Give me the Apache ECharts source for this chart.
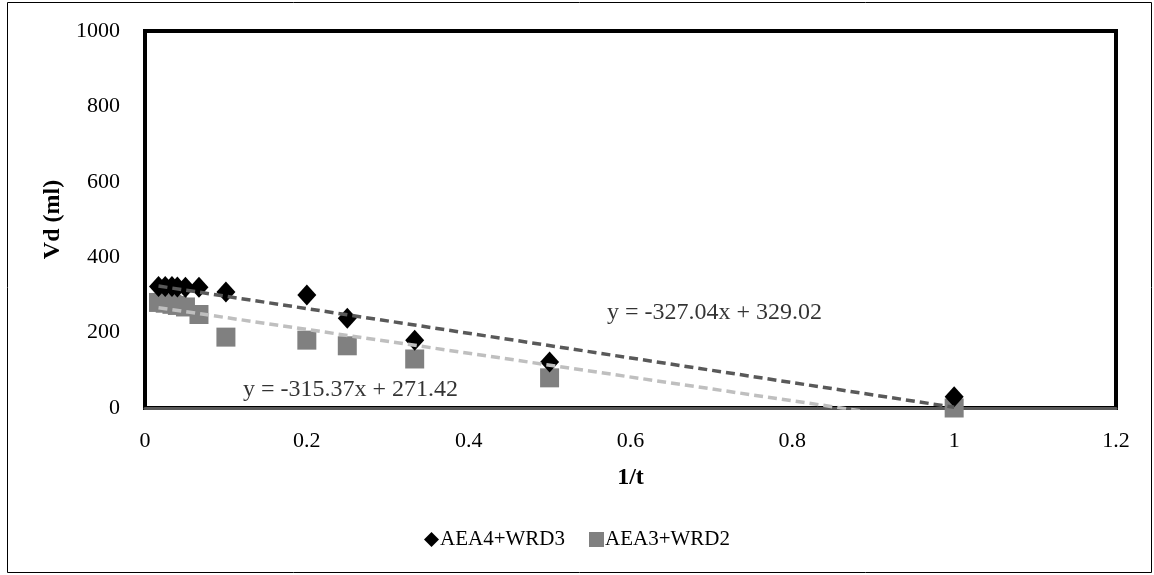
<!DOCTYPE html>
<html><head><meta charset="utf-8">
<script src="https://cdn.jsdelivr.net/npm/echarts@6/dist/echarts.min.js"></script>
<style>html,body{margin:0;padding:0;background:#fff}#c{width:1154px;height:575px}</style>
</head><body><div id="c"></div>
<script>
const xValues = [1, 0.5, 0.3333, 0.25, 0.2, 0.1, 0.0667, 0.05, 0.04, 0.0333, 0.025, 0.0167];
const seriesA = [30, 122, 180, 238, 300, 308, 320, 320, 321, 322, 322, 322]; // AEA4+WRD3
const seriesB = [0, 80, 130, 165, 180, 188, 248, 268, 272, 275, 278, 280]; // AEA3+WRD2
const seriesNames = ['AEA4+WRD3', 'AEA3+WRD2'];
const trendA = [-327.04, 329.02];
const trendB = [-315.37, 271.42];
const trendLabels = ['y = -327.04x + 329.02', 'y = -315.37x + 271.42'];
const xTicks = [0, 0.2, 0.4, 0.6, 0.8, 1, 1.2];
const yTicks = [0, 200, 400, 600, 800, 1000];

const font = 'Liberation Serif, Times New Roman, serif';
const pts = (xs, ys) => xs.map((x, i) => [x, ys[i]]);
const xMin = Math.min(...xValues), xMax = Math.max(...xValues);
const trend = (c) => [[xMin, c[0] * xMin + c[1]], [xMax, c[0] * xMax + c[1]]];

const chart = echarts.init(document.getElementById('c'));
chart.setOption({
  animation: false,
  backgroundColor: '#fff',
  textStyle: { fontFamily: font },
  grid: { left: 145, right: 38, top: 31, bottom: 167, show: true, borderColor: '#000', borderWidth: 4, backgroundColor: '#fff' },
  xAxis: {
    type: 'value', min: 0, max: 1.2, interval: 0.2,
    name: '1/t', nameLocation: 'middle', nameGap: 58,
    nameTextStyle: { fontFamily: font, fontSize: 24, fontWeight: 'bold', color: '#000' },
    axisLine: { show: true, onZero: false, lineStyle: { color: '#595959', width: 3 } },
    axisTick: { show: false },
    splitLine: { show: false },
    axisLabel: { fontFamily: font, fontSize: 22, color: '#000', margin: 22,
      formatter: v => xTicks.includes(+v.toFixed(1)) ? String(+v.toFixed(1)) : '' }
  },
  yAxis: {
    type: 'value', min: 0, max: 1000, interval: 200,
    name: 'Vd (ml)', nameLocation: 'middle', nameGap: 72,
    nameTextStyle: { fontFamily: font, fontSize: 24, fontWeight: 'bold', color: '#000' },
    axisLine: { show: false }, axisTick: { show: false }, splitLine: { show: false },
    axisLabel: { fontFamily: font, fontSize: 22, color: '#000', margin: 25,
      formatter: v => yTicks.includes(v) ? String(v) : '' }
  },
  legend: {
    top: 524, left: 'center', itemGap: 24, itemWidth: 15, itemHeight: 15,
    textStyle: { fontFamily: font, fontSize: 21, color: '#000', padding: [0, 0, 0, -4] },
    data: [{ name: seriesNames[0], icon: 'diamond' }, { name: seriesNames[1], icon: 'rect' }]
  },
  graphic: [{ type: 'rect', shape: { x: 7.5, y: 2.5, width: 1144, height: 570 }, style: { fill: 'none', stroke: '#000', lineWidth: 1 }, z: 100 }],
  series: [
    { name: seriesNames[1], type: 'scatter', symbol: 'rect', symbolSize: 19, itemStyle: { color: '#808080', opacity: 1 }, data: pts(xValues, seriesB), z: 3 },
    { name: seriesNames[0], type: 'scatter', symbol: 'diamond', symbolSize: [19, 21], itemStyle: { color: '#000', opacity: 1 }, data: pts(xValues, seriesA), z: 4 },
    { name: 'trendA', type: 'line', showSymbol: false, symbol: 'none', clip: true, data: trend(trendA),
      lineStyle: { color: '#595959', width: 3.5, type: [9, 5] }, z: 5 },
    { name: 'trendB', type: 'line', showSymbol: false, symbol: 'none', clip: true, data: trend(trendB),
      lineStyle: { color: '#bfbfbf', width: 3.5, type: [9, 5] }, z: 5 },
    { name: 'labels', type: 'scatter', symbolSize: 0, silent: true, z: 6,
      data: [
        { value: [0.571, 252], label: { show: true, formatter: trendLabels[0], position: 'right', distance: 0, fontFamily: font, fontSize: 24, color: '#000' } },
        { value: [0.121, 48], label: { show: true, formatter: trendLabels[1], position: 'right', distance: 0, fontFamily: font, fontSize: 24, color: '#000' } }
      ] }
  ]
});
</script></body></html>
